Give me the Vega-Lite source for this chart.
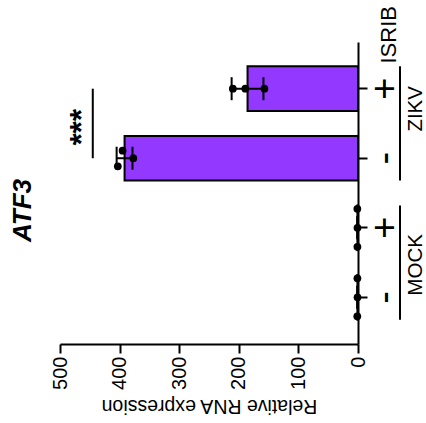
{
  "$schema": "https://vega.github.io/schema/vega-lite/v6.json",
  "padding": {"left": 9, "top": 5, "right": 0, "bottom": 5},
  "bounds": "flush",
  "spacing": 30,
  "title": {"text": "ATF3", "orient": "left", "anchor": "middle", "fontSize": 26, "fontWeight": "bold", "fontStyle": "italic", "font": "Liberation Sans", "color": "black", "offset": 14},
  "config": {"font": "Liberation Sans", "view": {"stroke": null}},
  "datasets": {
    "reps": [
      {"cond": "MOCK-", "value": 1.0, "j": -1},
      {"cond": "MOCK-", "value": 0.8, "j": 0},
      {"cond": "MOCK-", "value": 1.2, "j": 1},
      {"cond": "MOCK+", "value": 1.1, "j": -1},
      {"cond": "MOCK+", "value": 0.9, "j": 0},
      {"cond": "MOCK+", "value": 1.0, "j": 1},
      {"cond": "ZIKV-", "value": 395, "j": -0.4},
      {"cond": "ZIKV-", "value": 403, "j": 0.4},
      {"cond": "ZIKV-", "value": 377, "j": 0},
      {"cond": "ZIKV+", "value": 210, "j": 0},
      {"cond": "ZIKV+", "value": 189, "j": 0},
      {"cond": "ZIKV+", "value": 157, "j": 0}
    ],
    "sig": [{"from": "ZIKV+", "to": "ZIKV-", "value": 445, "starx": 461, "label": "***"}],
    "groups": [
      {"group": "MOCK", "start": "MOCK+", "end": "MOCK-"},
      {"group": "ZIKV", "start": "ZIKV+", "end": "ZIKV-"}
    ]
  },
  "hconcat": [
    {
      "width": 298,
      "height": 302,
      "data": {"name": "reps"},
      "encoding": {
        "y": {
          "field": "cond", "type": "nominal",
          "scale": {"domain": ["ZIKV+", "ZIKV-", "MOCK+", "MOCK-"], "paddingInner": 0.357, "paddingOuter": 0.35},
          "axis": {
            "orient": "right", "title": "ISRIB", "titleAngle": 270, "titleAlign": "left", "titleBaseline": "alphabetic",
            "titleX": 37, "titleY": 21, "titleFontSize": 22, "titleFontWeight": "normal", "titleColor": "black",
            "labelExpr": "slice(datum.label, -1)", "labelAngle": 270, "labelFontSize": 38, "labelBaseline": "alphabetic",
            "labelAlign": "center", "labelPadding": 29, "labelColor": "black",
            "tickSize": 9, "tickWidth": 2, "tickColor": "black", "domainWidth": 2, "domainColor": "black"
          }
        },
        "x": {"field": "value", "type": "quantitative", "title": "Relative RNA expression",
              "scale": {"domain": [0, 500], "reverse": true, "nice": false},
              "axis": {
                "values": [0, 100, 200, 300, 400, 500], "labelAngle": 270, "labelFontSize": 20, "labelAlign": "right",
                "labelBaseline": "middle", "labelPadding": 3, "labelColor": "black",
                "tickSize": 9, "tickWidth": 2, "tickColor": "black", "domainWidth": 2, "domainColor": "black", "grid": false,
                "titleAngle": 180, "titleFontSize": 19.5, "titleFontWeight": "normal",
                "titleBaseline": "alphabetic", "titleAlign": "center", "titleX": 149, "titleY": 55.5, "titleColor": "black"
              }
        }
      },
      "layer": [
        {
          "mark": {"type": "bar", "fill": "#9338FF", "stroke": "black", "strokeWidth": 2},
          "encoding": {"x": {"aggregate": "mean", "field": "value", "type": "quantitative", "title": "Relative RNA expression"}}
        },
        {
          "mark": {"type": "errorbar", "extent": "stdev", "ticks": {"size": 23, "color": "black", "opacity": 1}, "rule": {"color": "black"}, "thickness": 2, "color": "black"}
        },
        {
          "transform": [{"filter": "datum.j === -1"}],
          "mark": {"type": "point", "filled": true, "shape": "circle", "size": 60, "color": "black", "opacity": 1},
          "encoding": {"y": {"field": "cond", "type": "nominal", "bandPosition": 0.075}}
        },
        {
          "transform": [{"filter": "datum.j === 0"}],
          "mark": {"type": "point", "filled": true, "shape": "circle", "size": 60, "color": "black", "opacity": 1},
          "encoding": {"y": {"field": "cond", "type": "nominal", "bandPosition": 0.5}}
        },
        {
          "transform": [{"filter": "datum.j === 1"}],
          "mark": {"type": "point", "filled": true, "shape": "circle", "size": 60, "color": "black", "opacity": 1},
          "encoding": {"y": {"field": "cond", "type": "nominal", "bandPosition": 0.925}}
        },
        {
          "transform": [{"filter": "datum.j === -0.4"}],
          "mark": {"type": "point", "filled": true, "shape": "circle", "size": 60, "color": "black", "opacity": 1},
          "encoding": {"y": {"field": "cond", "type": "nominal", "bandPosition": 0.33}}
        },
        {
          "transform": [{"filter": "datum.j === 0.4"}],
          "mark": {"type": "point", "filled": true, "shape": "circle", "size": 60, "color": "black", "opacity": 1},
          "encoding": {"y": {"field": "cond", "type": "nominal", "bandPosition": 0.68}}
        },
        {
          "data": {"name": "sig"},
          "mark": {"type": "rule", "strokeWidth": 2, "color": "black"},
          "encoding": {
            "y": {"field": "from", "type": "nominal", "bandPosition": 0.5},
            "y2": {"field": "to", "bandPosition": 0.5}
          }
        },
        {
          "data": {"name": "sig"},
          "mark": {"type": "text", "angle": 270, "fontSize": 31, "fontWeight": "bold", "baseline": "middle", "align": "center", "color": "black"},
          "encoding": {
            "x": {"field": "starx", "type": "quantitative", "title": "Relative RNA expression"},
            "y": {"field": "from", "type": "nominal", "bandPosition": 1.36},
            "text": {"field": "label"}
          }
        }
      ]
    },
    {
      "width": 24,
      "height": 302,
      "data": {"name": "groups"},
      "layer": [
        {
          "mark": {"type": "rule", "strokeWidth": 2, "color": "black"},
          "encoding": {
            "y": {"field": "start", "type": "nominal", "bandPosition": 0, "scale": {"domain": ["ZIKV+", "ZIKV-", "MOCK+", "MOCK-"], "paddingInner": 0.357, "paddingOuter": 0.35}, "axis": null},
            "y2": {"field": "end", "bandPosition": 1}
          }
        },
        {
          "transform": [{"filter": "datum.group === 'MOCK'"}],
          "mark": {"type": "text", "angle": 270, "fontSize": 20.5, "baseline": "top", "align": "center", "dy": 5.5, "color": "black"},
          "encoding": {
            "y": {"field": "start", "type": "nominal", "bandPosition": 1.33, "scale": {"domain": ["ZIKV+", "ZIKV-", "MOCK+", "MOCK-"], "paddingInner": 0.357, "paddingOuter": 0.35}, "axis": null},
            "text": {"field": "group"}
          }
        },
        {
          "transform": [{"filter": "datum.group === 'ZIKV'"}],
          "mark": {"type": "text", "angle": 270, "fontSize": 20.5, "baseline": "top", "align": "center", "dy": 5.5, "color": "black"},
          "encoding": {
            "y": {"field": "start", "type": "nominal", "bandPosition": 0.95, "scale": {"domain": ["ZIKV+", "ZIKV-", "MOCK+", "MOCK-"], "paddingInner": 0.357, "paddingOuter": 0.35}, "axis": null},
            "text": {"field": "group"}
          }
        }
      ]
    }
  ]
}
